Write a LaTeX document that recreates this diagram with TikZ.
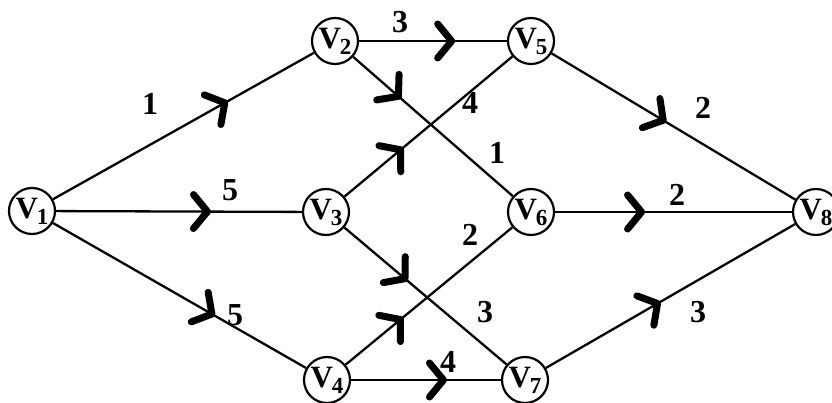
\documentclass[tikz,border=0pt]{standalone}
\usepackage{fontspec}
\setmainfont{Liberation Serif}
\usepackage{tikz}
\usetikzlibrary{arrows.meta, decorations.markings}

\newcommand{\vname}[1]{V\kern-1pt\raisebox{-6pt}{\fontsize{23}{23}\selectfont #1}}

\tikzset{
  vertex/.style={circle, draw, line width=2.2pt, minimum size=46pt, inner sep=0pt,
    font=\fontsize{31}{31}\selectfont\bfseries},
  weight/.style={font=\fontsize{32}{32}\selectfont\bfseries, inner sep=1pt},
  midarrow/.style={postaction={decorate, decoration={markings,
    mark=at position #1 with {\arrow{Straight Barb[length=14pt, width=34pt, line width=7pt, round]}}}}}
}

\begin{document}
\begin{tikzpicture}[x=1pt, y=-1pt, every edge/.style={draw, line width=2.3pt}]
  \useasboundingbox (0,0) rectangle (832,403);
  \node[vertex] (v1) at (32,211) {\vname{1}};
  \node[vertex] (v2) at (335,41) {\vname{2}};
  \node[vertex] (v3) at (326,212) {\vname{3}};
  \node[vertex] (v4) at (327,380) {\vname{4}};
  \node[vertex] (v5) at (531,41) {\vname{5}};
  \node[vertex] (v6) at (531,212) {\vname{6}};
  \node[vertex] (v7) at (525,380) {\vname{7}};
  \node[vertex] (v8) at (816,212) {\vname{8}};
  \path (v1) edge[midarrow=0.67] (v2)
        (v1) edge[midarrow=0.63] (v3)
        (v1) edge[midarrow=0.64] (v4)
        (v2) edge[midarrow=0.65] (v5)
        (v2) edge[midarrow=0.30] (v6)
        (v3) edge[midarrow=0.35] (v5)
        (v3) edge[midarrow=0.39] (v7)
        (v4) edge[midarrow=0.345] (v6)
        (v4) edge[midarrow=0.64] (v7)
        (v5) edge[midarrow=0.47] (v8)
        (v6) edge[midarrow=0.38] (v8)
        (v7) edge[midarrow=0.46] (v8);
  % weights
  \node[weight] (w12) at (150,104) {1};
  \node[weight] (w13) at (230,190) {5};
  \node[weight] (w14) at (235,315) {5};
  \node[weight] (w25) at (400,22) {3};
  \node[weight] (w26) at (497,153) {1};
  \node[weight] (w35) at (470,103) {4};
  \node[weight] (w37) at (485,312) {3};
  \node[weight] (w46) at (470,235) {2};
  \node[weight] (w47) at (448,362) {4};
  \node[weight] (w58) at (703,108) {2};
  \node[weight] (w68) at (677,195) {2};
  \node[weight] (w78) at (698,312) {3};
\end{tikzpicture}
\end{document}
